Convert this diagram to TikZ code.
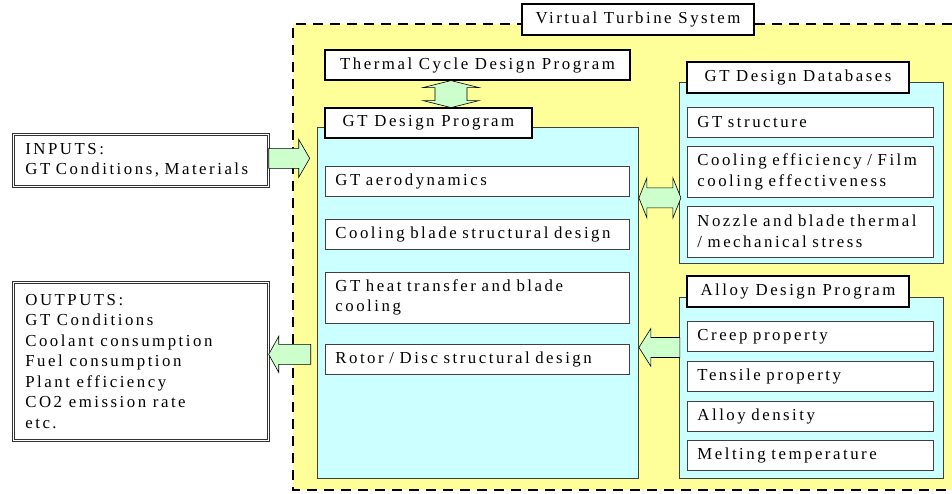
\documentclass[tikz,border=0pt]{standalone}
\usepackage{fontspec}
\setmainfont[LetterSpace=15]{Liberation Serif}
\usepackage{tikz}
\usetikzlibrary{calc,positioning,shadows}
\definecolor{sysyellow}{RGB}{255,255,153}
\definecolor{panelcyan}{RGB}{204,255,255}
\definecolor{arrowgreen}{RGB}{204,255,204}
\tikzset{%
	sysfill/.style  = {fill=sysyellow}, % system area
	sysframe/.style = {line width=2.8pt, dash pattern=on 10pt off 7pt},
	titlebox/.style = {draw, line width=1.2pt, fill=white, minimum height=30pt, inner sep=0pt,
	                   drop shadow={shadow xshift=1.3pt, shadow yshift=-1.3pt, opacity=1, fill=black}},
	panel/.style    = {draw=black!75, line width=0.9pt, fill=panelcyan, inner sep=0pt},
	item/.style     = {draw=black!75, line width=0.8pt, fill=white, minimum height=30pt, inner xsep=10pt, inner ysep=0pt, align=left},
	gtitem/.style   = {item, text width=284pt},
	dbitem/.style   = {item, text width=226pt},
	iobox/.style    = {draw=black!80, double, double distance=1.2pt, line width=0.7pt, fill=white, inner xsep=12pt},
	fatarrow/.style = {draw, fill=arrowgreen, line width=0.6pt, line join=miter},
}
\begin{document}
\begin{tikzpicture}[x=1pt,y=-1pt,font=\fontsize{16.8}{20.5}\selectfont]
	\useasboundingbox (0,0) rectangle (952,494);

	% system frame
	\fill[sysfill] (293,24) rectangle (952,490);
	\draw[sysframe] (952,24) -- (293,24) -- (293,490) -- (952,490);
	\node[titlebox, minimum width=232pt, minimum height=31pt] (vts) at (638,19.5) {Virtual Turbine System};

	% panels
	\node[panel, minimum width=321pt, minimum height=351pt, anchor=north west] (gtpanel) at (317,127) {};
	\node[panel, minimum width=264pt, minimum height=181pt, anchor=north west] (dbpanel) at (679,82) {};
	\node[panel, minimum width=264pt, minimum height=181pt, anchor=north west] (alpanel) at (679,297) {};

	% program titles
	\node[titlebox, minimum width=305pt] (thermal) at (477.5,65) {Thermal Cycle Design Program};
	\node[titlebox, minimum width=207pt] (gttitle) at (428.5,123) {GT Design Program};
	\node[titlebox, minimum width=222pt, minimum height=31pt] (dbtitle) at (798,77.5) {GT Design Databases};
	\node[titlebox, minimum width=222pt, minimum height=31pt] (altitle) at (798,291.5) {Alloy Design Program};

	% GT design program
	\node[gtitem, anchor=north west] (aero) at (325,166) {GT aerodynamics};
	\node[gtitem, below=22pt of aero] (blade) {Cooling blade structural design};
	\node[gtitem, below=22pt of blade, minimum height=51pt] (heat) {GT heat transfer and blade\\cooling};
	\node[gtitem, below=21pt of heat] (rotor) {Rotor / Disc structural design};

	% databases
	\node[dbitem, anchor=north west] (struct) at (687,107) {GT structure};
	\node[dbitem, below=8pt of struct, minimum height=51pt] (cooleff) {Cooling efficiency / Film\\cooling effectiveness};
	\node[dbitem, below=8pt of cooleff, minimum height=51pt] (nozzle) {Nozzle and blade thermal\\/ mechanical stress};

	% alloy design program
	\node[dbitem, anchor=north west] (creep) at (687,321) {Creep property};
	\node[dbitem, below=9pt of creep] (tensile) {Tensile property};
	\node[dbitem, below=9pt of tensile] (density) {Alloy density};
	\node[dbitem, below=9pt of density] (melting) {Melting temperature};

	% inputs / outputs
	\node[iobox, anchor=north west, minimum width=255pt, minimum height=52pt, text width=231pt, align=left] (inputs) at (13,134) {INPUTS:\\GT Conditions, Materials};
	\node[iobox, anchor=north west, inner ysep=12pt] (outputs) at (13,282)
		{\parbox[c][134pt][t]{231pt}{OUTPUTS:\\GT Conditions\\Coolant consumption\\Fuel consumption\\Plant efficiency\\CO2 emission rate\\etc.}};

	% fat arrows
	\draw[fatarrow] ([yshift=12pt]inputs.east) -- ++(30,0) -- ++(0,-9) -- ++(11,19) -- ++(-11,19) -- ++(0,-9) -- ++(-30,0) -- cycle;
	\draw[fatarrow] ([yshift=7pt]outputs.east) -- ++(10,-18) -- ++(0,8) -- ++(32,0) -- ++(0,20) -- ++(-32,0) -- ++(0,8) -- cycle;
	\draw[fatarrow] ([xshift=-26.5pt]thermal.south) -- ++(28,7) -- ++(-12,0) -- ++(0,13) -- ++(12,0) -- ++(-28,7) -- ++(-28,-7) -- ++(12,0) -- ++(0,-13) -- ++(-12,0) -- cycle;
	\draw[fatarrow] ([yshift=105pt]gtpanel.east) -- ++(8,-20) -- ++(0,10) -- ++(26,0) -- ++(0,-10) -- ++(8,20) -- ++(-8,20) -- ++(0,-10) -- ++(-26,0) -- ++(0,10) -- cycle;
	\draw[fatarrow] ([yshift=-44.5pt]gtpanel.east) -- ++(12,-19) -- ++(0,9) -- ++(29,0) -- ++(0,20) -- ++(-29,0) -- ++(0,9) -- cycle;
\end{tikzpicture}
\end{document}
